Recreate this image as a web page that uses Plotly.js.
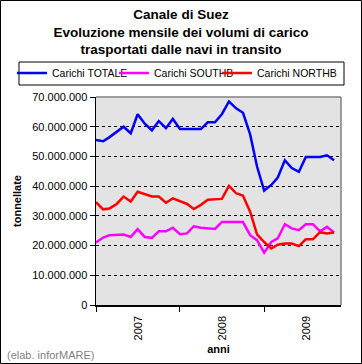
<!DOCTYPE html>
<html>
<head>
<meta charset="utf-8">
<script src="https://cdn.plot.ly/plotly-3.0.1.min.js"></script>
<style>html,body{margin:0;padding:0;background:#fff;}#chart{width:362px;height:364px;}</style>
</head>
<body>
<div id="chart"></div>
<script>
// Months Jan 2007 .. Nov 2009
const months = [
  '2007-01-01','2007-02-01','2007-03-01','2007-04-01','2007-05-01','2007-06-01',
  '2007-07-01','2007-08-01','2007-09-01','2007-10-01','2007-11-01','2007-12-01',
  '2008-01-01','2008-02-01','2008-03-01','2008-04-01','2008-05-01','2008-06-01',
  '2008-07-01','2008-08-01','2008-09-01','2008-10-01','2008-11-01','2008-12-01',
  '2009-01-01','2009-02-01','2009-03-01','2009-04-01','2009-05-01','2009-06-01',
  '2009-07-01','2009-08-01','2009-09-01','2009-10-01','2009-11-01'
];
// values in tonnes
const totale = [
  55.5e6,55.1e6,56.5e6,58.2e6,60.0e6,57.8e6,64.2e6,61.0e6,58.8e6,61.9e6,59.5e6,62.6e6,
  59.2e6,59.2e6,59.2e6,59.2e6,61.5e6,61.5e6,64.2e6,68.5e6,66.2e6,64.7e6,57.4e6,46.6e6,
  38.5e6,40.4e6,42.9e6,48.7e6,46.1e6,44.8e6,49.8e6,49.8e6,49.8e6,50.4e6,48.7e6
];
const southb = [
  21.0e6,22.7e6,23.5e6,23.7e6,23.7e6,22.9e6,25.5e6,22.9e6,22.6e6,24.8e6,24.8e6,26.0e6,
  23.8e6,24.1e6,26.5e6,26.0e6,25.8e6,25.6e6,27.9e6,27.9e6,27.9e6,27.9e6,23.5e6,21.8e6,
  17.6e6,21.2e6,22.4e6,27.2e6,25.8e6,25.2e6,27.2e6,27.2e6,24.8e6,26.3e6,24.4e6
];
const northb = [
  34.6e6,32.2e6,32.5e6,34.0e6,36.5e6,34.8e6,38.1e6,37.4e6,36.5e6,36.5e6,34.4e6,35.9e6,
  35.0e6,34.0e6,32.3e6,33.7e6,35.4e6,35.6e6,35.7e6,40.1e6,37.6e6,36.8e6,31.4e6,23.8e6,
  21.2e6,19.0e6,20.3e6,20.7e6,20.7e6,19.8e6,22.1e6,22.1e6,24.5e6,24.1e6,24.4e6
];
const seriesNames = ['Carichi TOTALE','Carichi SOUTHB','Carichi NORTHB'];
const seriesColors = ['#0000ff','#ff00ff','#ff0000'];
const yTicks = [0,10e6,20e6,30e6,40e6,50e6,60e6,70e6];

const W = 362, H = 364, ml = 96, mr = 21, mt = 97, mb = 59;
const pw = W - ml - mr, ph = H - mt - mb;
const px = s => (s - ml) / pw;          // screen x -> paper
const py = s => (H - mb - s) / ph;      // screen y -> paper

const font = 'Arial, "Liberation Sans", sans-serif';
const legendIds = ['legend', 'legend2', 'legend3'];
const legendX = [12, 114, 217];

const mk = (y, i) => ({
  x: months, y: y, type: 'scatter', mode: 'lines', name: seriesNames[i],
  legend: legendIds[i],
  line: {color: seriesColors[i], width: 2.5}
});
const data = [mk(totale,0), mk(southb,1), mk(northb,2)];

const layout = {
  width: W, height: H,
  margin: {l: ml, r: mr, t: mt, b: mb, pad: 0},
  paper_bgcolor: '#ffffff', plot_bgcolor: '#e3e3e3',
  separators: ',.',
  font: {family: font, size: 11, color: '#000'},
  title: {
    text: '<b>Canale di Suez<br>Evoluzione mensile dei volumi di carico<br>trasportati dalle navi in transito</b>',
    font: {family: font, size: 13.5, color: '#000'},
    x: 0.5, xanchor: 'center', xref: 'container', yref: 'container', y: 1 - 19 / H, yanchor: 'top'
  },
  showlegend: true,
  xaxis: {
    type: 'date', range: ['2007-01-01', '2009-12-01'],
    tick0: '2007-01-01', dtick: 'M12', tickformat: '%Y', ticklabelmode: 'period',
    tickangle: -90, ticks: 'outside', ticklen: 5, tickcolor: '#000', tickwidth: 1,
    showgrid: false, zeroline: false, showline: true, linecolor: '#000', linewidth: 1.5,
    tickfont: {family: font, size: 11},
    title: {text: '<b>anni</b>', font: {family: font, size: 11}, standoff: 6}
  },
  yaxis: {
    range: [0, 70e6], tickvals: yTicks, tickformat: ',d',
    ticks: 'outside', ticklen: 5, tickcolor: '#000', tickwidth: 1,
    showgrid: true, gridcolor: '#000', gridwidth: 1, griddash: '3px,3px',
    zeroline: false, showline: true, linecolor: '#000', linewidth: 1.5,
    tickfont: {family: font, size: 11},
    title: {text: '<b>tonnellate</b>', font: {family: font, size: 11}, standoff: 8}
  },
  shapes: [
    {type: 'line', xref: 'paper', yref: 'paper', x0: 0, x1: 1, y0: 1, y1: 1, line: {color: '#808080', width: 1.5}},
    {type: 'line', xref: 'paper', yref: 'paper', x0: 1, x1: 1, y0: 0, y1: 1, line: {color: '#808080', width: 1.5}},
    {type: 'rect', xref: 'paper', yref: 'paper', x0: px(19), x1: px(344), y0: py(85), y1: py(62), line: {color: '#000', width: 1}, fillcolor: 'rgba(0,0,0,0)'},
    {type: 'rect', xref: 'paper', yref: 'paper', x0: px(0.5), x1: px(361.5), y0: py(363.5), y1: py(0.5), line: {color: '#000', width: 1}, fillcolor: 'rgba(0,0,0,0)'}
  ],
  annotations: [
    {text: '(elab. inforMARE)', xref: 'paper', yref: 'paper', x: px(5), y: py(355), xanchor: 'left', yanchor: 'middle',
     showarrow: false, font: {family: font, size: 11, color: '#7f7f7f'}}
  ]
};
legendIds.forEach((id, i) => {
  layout[id] = {
    orientation: 'h', x: px(legendX[i]), xanchor: 'left', y: py(73), yanchor: 'middle',
    font: {family: font, size: 10.5}, bgcolor: 'rgba(0,0,0,0)', borderwidth: 0, itemwidth: 30
  };
});
Plotly.newPlot('chart', data, layout, {staticPlot: true, displayModeBar: false});
</script>
</body>
</html>
